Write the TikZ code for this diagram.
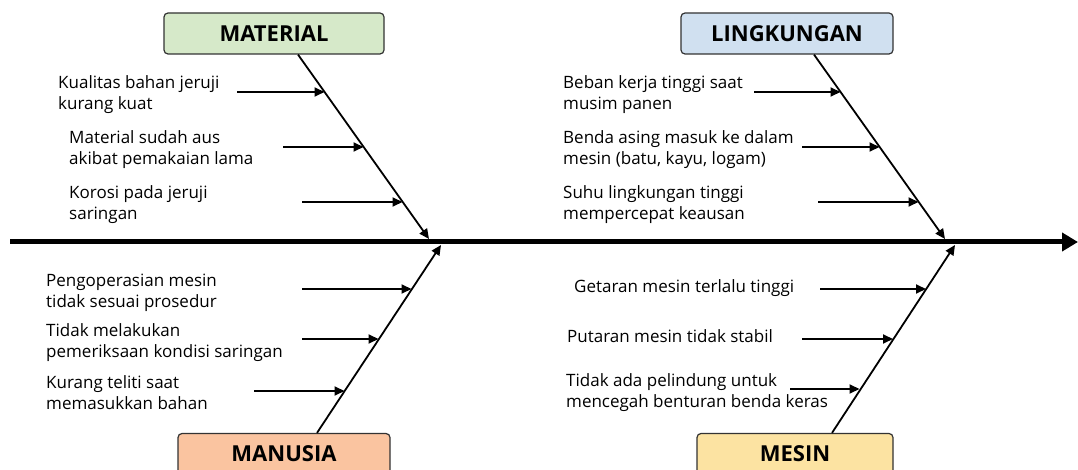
\documentclass[tikz,border=0pt]{standalone}
\usepackage{fontspec}
\setmainfont{Open Sans}
\usetikzlibrary{arrows.meta}
\definecolor{matfill}{RGB}{214,233,201}
\definecolor{linfill}{RGB}{208,224,240}
\definecolor{manfill}{RGB}{250,196,160}
\definecolor{mesfill}{RGB}{252,227,162}
\begin{document}
\begin{tikzpicture}[x=1pt,y=-1pt,
  cat/.style={draw=black!80,line width=1.2pt,rounded corners=4pt,minimum height=41pt,
    inner sep=0pt,font=\bfseries\fontsize{22}{26}\selectfont},
  cause/.style={anchor=base west,align=left,inner sep=0pt,font=\fontsize{17}{21}\selectfont},
  bone/.style={line width=1.8pt,-{Triangle[length=10pt,width=9pt]}},
  spine/.style={line width=5pt,-{Triangle[length=16pt,width=18pt]}}]
\useasboundingbox (0,0) rectangle (1078,470);
\fill[white] (0,0) rectangle (1078,470);
\coordinate (tail) at (10,242);
\coordinate (head) at (1078,242);
\draw[spine] (tail) -- (head);
\node[cat,fill=matfill,minimum width=220pt] (mat) at (274,33.5) {MATERIAL};
\node[cat,fill=linfill,minimum width=212pt] (lin) at (787,33.5) {LINGKUNGAN};
\node[cat,fill=manfill,minimum width=212pt] (man) at (284,454) {MANUSIA};
\node[cat,fill=mesfill,minimum width=196pt] (mes) at (795,454) {MESIN};
\coordinate (jm) at (429,239);
\coordinate (jl) at (945,239);
\coordinate (jn) at (441,245);
\coordinate (js) at (955,245);
\draw[bone] ([xshift=24pt]mat.south) -- (jm);
\draw[bone] ([xshift=27pt]lin.south) -- (jl);
\draw[bone] ([xshift=33pt]man.north) -- (jn);
\draw[bone] ([xshift=37pt]mes.north) -- (js);
\foreach \nm/\x/\y/\dy/\xa/\xb/\txt in {
  m1/58/92/18/237/324.5/{Kualitas bahan jeruji\\kurang kuat},
  m2/69/147/18/283/363.5/{Material sudah aus\\akibat pemakaian lama},
  m3/69/202/18/302/402.5/{Korosi pada jeruji\\saringan},
  l1/563/92/18/754/840.5/{Beban kerja tinggi saat\\musim panen},
  l2/563/147/18/802/879.5/{Benda asing masuk ke dalam\\mesin (batu, kayu, logam)},
  l3/563/202/18/818/918.5/{Suhu lingkungan tinggi\\mempercepat keausan},
  n1/46/289/18/302/411.5/{Pengoperasian mesin\\tidak sesuai prosedur},
  n2/46/339/18/302/378.5/{Tidak melakukan\\pemeriksaan kondisi saringan},
  n3/46/391/18/254/344.5/{Kurang teliti saat\\memasukkan bahan},
  s1/574/289/3.5/820/926/{Getaran mesin terlalu tinggi},
  s2/567/339/3.5/802/893/{Putaran mesin tidak stabil},
  s3/566/389/18/790/859.5/{Tidak ada pelindung untuk\\mencegah benturan benda keras}}{
  \node[cause] (\nm) at (\x,\y+\dy) {\txt};
  \coordinate (\nm a) at (\xa,\y);
  \coordinate (\nm b) at (\xb,\y);
  \draw[bone] (\nm a) -- (\nm b);
}
\end{tikzpicture}
\end{document}
